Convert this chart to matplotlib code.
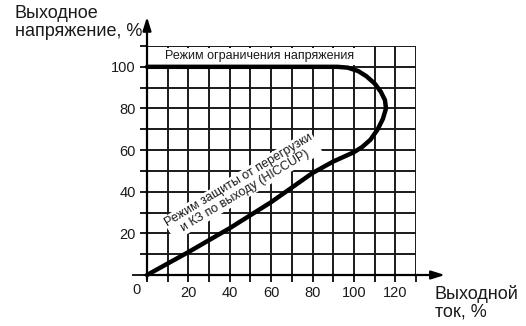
import matplotlib
matplotlib.use("Agg")
import matplotlib.pyplot as plt
from matplotlib.patches import Rectangle

# Output characteristic: voltage (%) vs current (%)
current = [0, 20, 40, 60, 80, 90, 100, 104, 108, 111.5, 114, 115.5,
           115, 113, 110, 106, 102, 97, 92, 0]
voltage = [0, 11, 22.5, 35, 49, 54.5, 59, 61.5, 65, 70, 75, 80,
           84, 88, 92, 95.5, 98, 99.6, 100, 100]

x_ticks = list(range(0, 131, 10))
x_labels = ["", "", "20", "", "40", "", "60", "", "80", "", "100", "", "120", ""]
y_ticks = list(range(0, 111, 10))
y_labels = ["", "", "20", "", "40", "", "60", "", "80", "", "100", ""]

FONT = ["Liberation Sans Narrow", "Liberation Sans", "DejaVu Sans"]
INK = "#1a1a1a"

plt.rcParams["font.family"] = FONT

fig = plt.figure(figsize=(5.26, 3.26), dpi=100)
ax = fig.add_axes([147 / 526, 51 / 326, 269 / 526, 229 / 326])
ax.set_xlim(0, 130)
ax.set_ylim(0, 110)

for s in ax.spines.values():
    s.set_visible(False)

ax.set_xticks(x_ticks)
ax.set_xticklabels(x_labels)
ax.set_yticks(y_ticks)
ax.set_yticklabels(y_labels)
ax.tick_params(direction="out", length=5, width=1.4, color=INK,
               labelsize=10.5, labelcolor=INK, pad=3)
ax.grid(True, color=INK, linewidth=1.4)
ax.set_axisbelow(True)

# white box behind the top label
ax.add_patch(Rectangle((0.8, 100.8), 107, 8.4, facecolor="white",
                       edgecolor="none", zorder=2))

ax.text(54.5, 105, "Режим ограничения напряжения", ha="center", va="center",
        fontsize=9, color=INK, zorder=3)

ax.text(46, 43, "Режим защиты от перегрузки\nи КЗ по выходу (HICCUP)",
        ha="center", va="center", rotation=31, rotation_mode="anchor",
        fontsize=9, color=INK, linespacing=1.0, zorder=3,
        bbox=dict(facecolor="white", edgecolor="none", pad=1))

ax.plot(current, voltage, color="black", linewidth=3.2,
        solid_joinstyle="round", solid_capstyle="round", zorder=4, clip_on=False)

# axes with arrows
ax.plot([-7, 0], [0, 0], color=INK, linewidth=1.4, clip_on=False)
ax.annotate("", xy=(144, 0), xytext=(-1, 0), annotation_clip=False,
            arrowprops=dict(arrowstyle="-|>,head_length=0.8,head_width=0.25",
                            color="black", lw=1.6, shrinkA=0, shrinkB=0))
ax.annotate("", xy=(0, 124), xytext=(0, -2), annotation_clip=False,
            arrowprops=dict(arrowstyle="-|>,head_length=0.8,head_width=0.25",
                            color="black", lw=1.6, shrinkA=0, shrinkB=0))

ax.text(-5, -4, "0", ha="center", va="top", fontsize=10.5, color=INK)

fig.text(15 / 526, 1 - 5 / 326, "Выходное\nнапряжение, %", ha="left", va="top",
         fontsize=13, color=INK, linespacing=1.05)
fig.text(435 / 526, 1 - 285 / 326, "Выходной\nток, %", ha="left", va="top",
         fontsize=13, color=INK, linespacing=1.05)

fig.savefig("out.png", dpi=100, facecolor="white")
